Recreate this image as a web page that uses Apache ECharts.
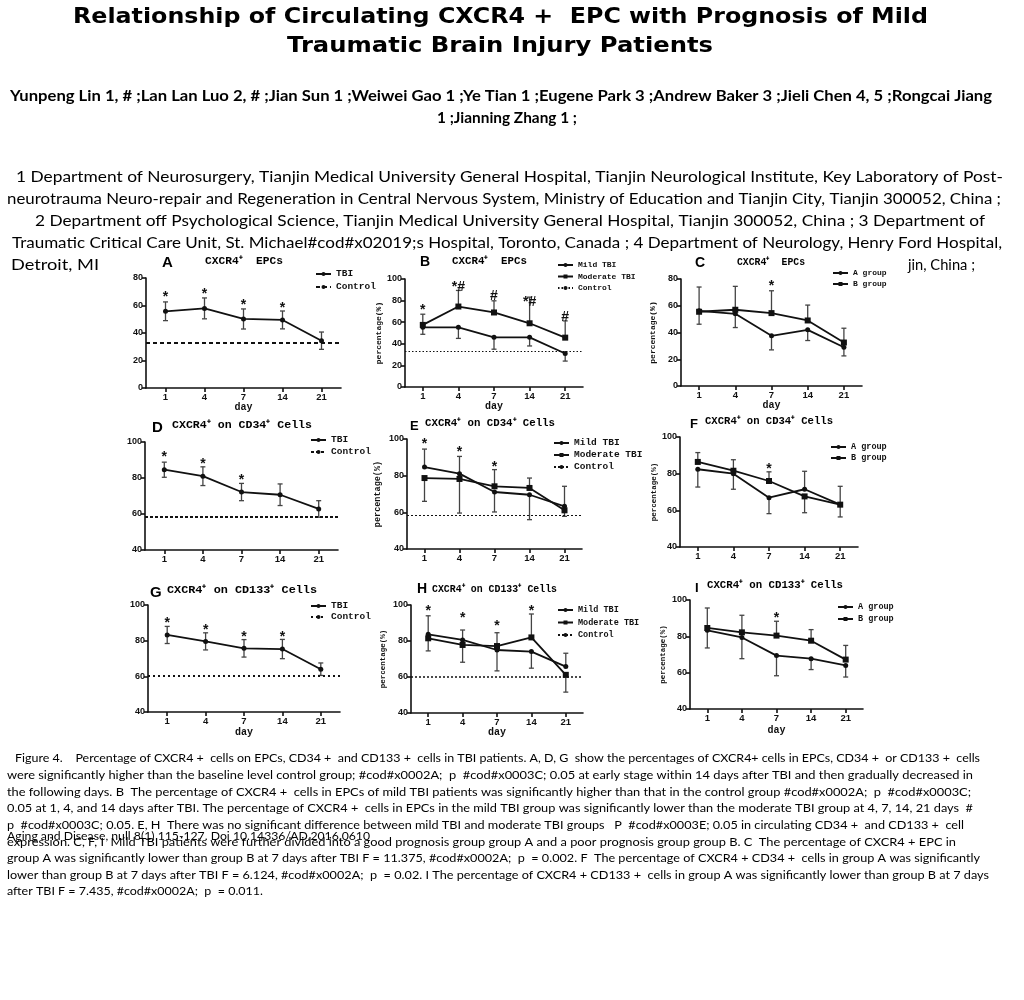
<!DOCTYPE html>
<html><head><meta charset="utf-8">
<script src="https://cdn.jsdelivr.net/npm/echarts@6/dist/echarts.min.js"></script>
<style>html,body{margin:0;padding:0;background:#fff}#c{width:1024px;height:1000px}</style>
</head><body><div id="c"></div>
<script>
// ---------- data ----------
const days = ['1','4','7','14','21'];

// A: CXCR4+ EPCs, TBI vs control
const A_tbi = [55.8, 57.9, 50.2, 49.5, 34.4];
const A_tbi_err = [6.8, 7.6, 7.3, 6.5, 6.3];
const A_control = 32.7;
const A_marks = ['*','*','*','*',''];
const A_markY = [68.5, 70.5, 62.5, 60.5, null];

// B: CXCR4+ EPCs, mild vs moderate
const B_mild = [55.3, 55.3, 46, 46, 31];
const B_mild_lo = [6.5, 10.3, 11, 8, 7];
const B_mod = [57.5, 74.5, 69, 59, 45.7];
const B_mod_hi = [9.9, 14.9, 10.8, 24.2, 15.5];
const B_control = 33.2;
const B_marks = ['*','*#','#','*#','#'];
const B_markY = [74, 95, 87, 81, 67.6];

// C: CXCR4+ EPCs, A vs B group
const C_a = [56.2, 54, 37.5, 42, 29];
const C_a_lo = [10, 10.3, 10.5, 8, 6.5];
const C_b = [55.5, 57, 54.5, 49, 32.5];
const C_b_hi = [18.5, 17.5, 16.7, 11.5, 10.7];
const C_marks = ['','','*','',''];
const C_markY = [null, null, 77, null, null];

// D: CXCR4+ on CD34+, TBI vs control
const D_tbi = [84.6, 81, 72.2, 70.7, 62.8];
const D_tbi_err = [4.2, 5.2, 4.8, 6, 4.6];
const D_control = 58.3;
const D_marks = ['*','*','*','',''];
const D_markY = [93, 89.6, 80.4, null, null];

// E: CXCR4+ on CD34+, mild vs moderate
const E_mild = [84.7, 81.1, 71.1, 69.6, 63.3];
const E_mild_hi = [9.8, 9.4, 0, 0, 10.9];
const E_mild_lo = [0, 0, 10.9, 13.6, 0];
const E_mod = [78.7, 78.2, 74.2, 73.3, 61.1];
const E_mod_hi = [0, 0, 9.1, 5.4, 0];
const E_mod_lo = [12.7, 18.6, 0, 0, 3.3];
const E_control = 58.2;
const E_marks = ['*','*','*','',''];
const E_markY = [98.7, 94.7, 86.4, null, null];

// F: CXCR4+ on CD34+, A vs B group
const F_a = [82.4, 80, 66.9, 71.5, 63.1];
const F_a_hi = [0, 0, 0, 9.8, 10];
const F_a_lo = [9.7, 8.5, 8.7, 0, 0];
const F_b = [86.4, 81.6, 76, 67.6, 63.1];
const F_b_hi = [5.1, 6, 5, 0, 0];
const F_b_lo = [0, 0, 0, 8.9, 6.7];
const F_marks = ['','','*','',''];
const F_markY = [null, null, 84.2, null, null];

// G: CXCR4+ on CD133+, TBI vs control
const G_tbi = [83.2, 79.6, 75.7, 75.3, 64];
const G_tbi_err = [4.8, 4.8, 4.9, 5.4, 3.5];
const G_control = 60.3;
const G_marks = ['*','*','*','*',''];
const G_markY = [91.3, 87.7, 83.8, 83.8, null];

// H: CXCR4+ on CD133+, mild vs moderate
const H_mild = [83.7, 80.6, 75, 74.1, 65.8];
const H_mild_hi = [10.3, 5.5, 0, 0, 7.4];
const H_mild_lo = [0, 0, 11.6, 9.2, 0];
const H_mod = [81.5, 77.8, 77.2, 82, 61.2];
const H_mod_hi = [0, 0, 7.4, 13, 0];
const H_mod_lo = [7, 9.6, 0, 0, 9.6];
const H_control = 60.3;
const H_marks = ['*','*','*','*',''];
const H_markY = [98, 94.4, 89.8, 98.5, null];

// I: CXCR4+ on CD133+, A vs B group
const I_a = [83.3, 79.4, 69.4, 67.7, 64];
const I_a_lo = [9.7, 11.7, 11.1, 6, 6.4];
const I_b = [84.6, 82.2, 80.4, 77.6, 67.2];
const I_b_hi = [11, 9.4, 7.9, 6.1, 7.8];
const I_marks = ['','','*','',''];
const I_markY = [null, null, 91.4, null, null];

// ---------- text ----------
const titleLines = ['Relationship of Circulating CXCR4 +  EPC with Prognosis of Mild', 'Traumatic Brain Injury Patients'];
const authorLines = ['Yunpeng Lin 1, # ;Lan Lan Luo 2, # ;Jian Sun 1 ;Weiwei Gao 1 ;Ye Tian 1 ;Eugene Park 3 ;Andrew Baker 3 ;Jieli Chen 4, 5 ;Rongcai Jiang', '1 ;Jianning Zhang 1 ;'];
const affLines = [
 '1 Department of Neurosurgery, Tianjin Medical University General Hospital, Tianjin Neurological Institute, Key Laboratory of Post-',
 'neurotrauma Neuro-repair and Regeneration in Central Nervous System, Ministry of Education and Tianjin City, Tianjin 300052, China ;',
 '2 Department off Psychological Science, Tianjin Medical University General Hospital, Tianjin 300052, China ; 3 Department of',
 'Traumatic Critical Care Unit, St. Michael#cod#x02019;s Hospital, Toronto, Canada ; 4 Department of Neurology, Henry Ford Hospital,',
 'Detroit, MI', 'jin, China ;'];
const captionLines = [
 'Figure 4.    Percentage of CXCR4 +  cells on EPCs, CD34 +  and CD133 +  cells in TBI patients. A, D, G  show the percentages of CXCR4+ cells in EPCs, CD34 +  or CD133 +  cells',
 'were significantly higher than the baseline level control group; #cod#x0002A;  p  #cod#x0003C; 0.05 at early stage within 14 days after TBI and then gradually decreased in',
 'the following days. B  The percentage of CXCR4 +  cells in EPCs of mild TBI patients was significantly higher than that in the control group #cod#x0002A;  p  #cod#x0003C;',
 '0.05 at 1, 4, and 14 days after TBI. The percentage of CXCR4 +  cells in EPCs in the mild TBI group was significantly lower than the moderate TBI group at 4, 7, 14, 21 days  #',
 'p  #cod#x0003C; 0.05. E, H  There was no significant difference between mild TBI and moderate TBI groups   P  #cod#x0003E; 0.05 in circulating CD34 +  and CD133 +  cell',
 'expression. C, F, I  Mild TBI patients were further divided into a good prognosis group group A and a poor prognosis group group B. C  The percentage of CXCR4 + EPC in',
 'group A was significantly lower than group B at 7 days after TBI F = 11.375, #cod#x0002A;  p  = 0.002. F  The percentage of CXCR4 + CD34 +  cells in group A was significantly',
 'lower than group B at 7 days after TBI F = 6.124, #cod#x0002A;  p  = 0.02. I The percentage of CXCR4 + CD133 +  cells in group A was significantly lower than group B at 7 days',
 'after TBI F = 7.435, #cod#x0002A;  p  = 0.011.'];
const citation = 'Aging and Disease, null 8(1) 115-127. Doi 10.14336/AD.2016.0610';

// ---------- layout ----------
const INK = '#111';
const P = [
 {key:'A', g:[146,278,195,110], y:[0,80], ser:[{n:'TBI', v:A_tbi, hi:A_tbi_err, lo:A_tbi_err, sym:'circle', ss:5}], ctrl:A_control, cs:{width:2,type:[4,3]}, marks:A_marks, markY:A_markY, xName:true, xGap:14, yName:false, leg:[315,274,9.5,13], letter:['A',162,263,15], title:['CXCR4⁺  EPCs',205,78,261]},
 {key:'B', g:[405,279,178,108], y:[0,100], ser:[{n:'Mild TBI', v:B_mild, hi:[], lo:B_mild_lo, sym:'circle', ss:5},{n:'Moderate TBI', v:B_mod, hi:B_mod_hi, lo:[], sym:'rect', ss:6}], ctrl:B_control, cs:{width:1,type:[1.5,2]}, marks:B_marks, markY:B_markY, xName:true, xGap:13, yName:true, yGap:21, yFs:8, leg:[557,265,8,11.5], letter:['B',420,262,14], title:['CXCR4⁺  EPCs',452,75,261]},
 {key:'C', g:[681,279,181,107], y:[0,80], ser:[{n:'A group', v:C_a, hi:[], lo:C_a_lo, sym:'circle', ss:5},{n:'B group', v:C_b, hi:C_b_hi, lo:[], sym:'rect', ss:6}], ctrl:null, marks:C_marks, markY:C_markY, xName:true, xGap:14, yName:true, yGap:24, yFs:8, leg:[832,273,8,11], letter:['C',695,263,14], title:['CXCR4⁺  EPCs',737,68,262]},
 {key:'D', g:[145,442,193,108], y:[40,100], ser:[{n:'TBI', v:D_tbi, hi:D_tbi_err, lo:D_tbi_err, sym:'circle', ss:5}], ctrl:D_control, cs:{width:2,type:[3,2]}, marks:D_marks, markY:D_markY, xName:false, yName:false, leg:[310,440,9.5,12], letter:['D',152,428,15], title:['CXCR4⁺ on CD34⁺ Cells',172,140,425]},
 {key:'E', g:[407,439,175,110], y:[40,100], ser:[{n:'Mild TBI', v:E_mild, hi:E_mild_hi, lo:E_mild_lo, sym:'circle', ss:5},{n:'Moderate TBI', v:E_mod, hi:E_mod_hi, lo:E_mod_lo, sym:'rect', ss:6}], ctrl:E_control, cs:{width:1,type:[2,2]}, marks:E_marks, markY:E_markY, xName:false, yName:true, yGap:25, yFs:8.5, leg:[553,443,9.5,12], letter:['E',410,426,13], title:['CXCR4⁺ on CD34⁺ Cells',425,130,423]},
 {key:'F', g:[680,437,178,110], y:[40,100], ser:[{n:'A group', v:F_a, hi:F_a_hi, lo:F_a_lo, sym:'circle', ss:5},{n:'B group', v:F_b, hi:F_b_hi, lo:F_b_lo, sym:'rect', ss:6}], ctrl:null, marks:F_marks, markY:F_markY, xName:false, yName:true, yGap:18, yFs:7.5, leg:[830,447,8.5,11], letter:['F',690,424,13], title:['CXCR4⁺ on CD34⁺ Cells',705,128,421]},
 {key:'G', g:[148,605,192,107], y:[40,100], ser:[{n:'TBI', v:G_tbi, hi:G_tbi_err, lo:G_tbi_err, sym:'circle', ss:5}], ctrl:G_control, cs:{width:2,type:[2,3]}, marks:G_marks, markY:G_markY, xName:true, xGap:15, yName:false, leg:[310,606,9.5,11], letter:['G',150,593,15], title:['CXCR4⁺ on CD133⁺ Cells',167,150,590]},
 {key:'H', g:[411,605,172,108], y:[40,100], ser:[{n:'Mild TBI', v:H_mild, hi:H_mild_hi, lo:H_mild_lo, sym:'circle', ss:5},{n:'Moderate TBI', v:H_mod, hi:H_mod_hi, lo:H_mod_lo, sym:'rect', ss:6}], ctrl:H_control, cs:{width:1.5,type:[2,2]}, marks:H_marks, markY:H_markY, xName:true, xGap:12, yName:true, yGap:24, yFs:7.5, leg:[557,610,8.5,12.5], letter:['H',417,589,14], title:['CXCR4⁺ on CD133⁺ Cells',432,125,589]},
 {key:'I', g:[690,600,173,109], y:[40,100], ser:[{n:'A group', v:I_a, hi:[], lo:I_a_lo, sym:'circle', ss:5},{n:'B group', v:I_b, hi:I_b_hi, lo:[], sym:'rect', ss:6}], ctrl:null, marks:I_marks, markY:I_markY, xName:true, xGap:16, yName:true, yGap:23, yFs:7.5, leg:[837,607,8.5,12], letter:['I',695,588,13], title:['CXCR4⁺ on CD133⁺ Cells',707,136,585]}
];

// ---------- helpers ----------
const mctx = document.createElement('canvas').getContext('2d');
function txt(s, font, x, y, w, z) {
  let sx = 1;
  if (w) { mctx.font = font; const m = mctx.measureText(s).width; if (m > 0) sx = w / m; }
  return {type:'text', x:x, y:y, scaleX:sx, silent:true, z:z||10,
    style:{text:s, font:font, fill:'#000', textAlign:'left', textVerticalAlign:'middle'}};
}
function errRender(params, api) {
  const x = api.value(0), v = api.value(1), up = api.value(2), dn = api.value(3);
  const mid = api.coord([x, v]);
  const st = {stroke:'#444', lineWidth:1.3, fill:null};
  const ch = [], cw = 2.5;
  if (up > 0) {
    const t = api.coord([x, v + up]);
    ch.push({type:'line', shape:{x1:mid[0], y1:mid[1], x2:t[0], y2:t[1]}, style:st});
    ch.push({type:'line', shape:{x1:t[0]-cw, y1:t[1], x2:t[0]+cw, y2:t[1]}, style:st});
  }
  if (dn > 0) {
    const b = api.coord([x, v - dn]);
    ch.push({type:'line', shape:{x1:mid[0], y1:mid[1], x2:b[0], y2:b[1]}, style:st});
    ch.push({type:'line', shape:{x1:b[0]-cw, y1:b[1], x2:b[0]+cw, y2:b[1]}, style:st});
  }
  return {type:'group', children:ch};
}

// ---------- build ----------
const grids = [], xAxes = [], yAxes = [], series = [], legends = [], graphics = [];
const tickFont = {color:INK, fontFamily:'Liberation Sans', fontWeight:'bold'};
P.forEach((p, gi) => {
  grids.push({left:p.g[0], top:p.g[1], width:p.g[2], height:p.g[3], containLabel:false, outerBoundsMode:'none'});
  xAxes.push({type:'category', gridIndex:gi, data:days, boundaryGap:true,
    axisLine:{show:true, lineStyle:{color:INK, width:1.6}},
    axisTick:{show:true, alignWithLabel:true, length:4, lineStyle:{color:INK, width:1.6}},
    axisLabel:Object.assign({fontSize:9.5, margin:4}, tickFont),
    splitLine:{show:false},
    name:p.xName ? 'day' : '', nameLocation:'middle', nameGap:p.xGap || 14,
    nameTextStyle:{color:INK, fontFamily:'Liberation Mono', fontWeight:'bold', fontSize:10}});
  yAxes.push({type:'value', gridIndex:gi, min:p.y[0], max:p.y[1], interval:20,
    axisLine:{show:true, lineStyle:{color:INK, width:1.6}},
    axisTick:{show:true, length:4, lineStyle:{color:INK, width:1.6}},
    axisLabel:Object.assign({fontSize:9, margin:3}, tickFont),
    splitLine:{show:false},
    name:p.yName ? 'percentage(%)' : '', nameLocation:'middle', nameRotate:90, nameGap:p.yGap || 22,
    nameTextStyle:{color:INK, fontFamily:'Liberation Mono', fontWeight:'bold', fontSize:p.yFs || 8}});
  const names = [];
  p.ser.forEach(s => {
    const nm = s.n + '|' + p.key; names.push(nm);
    series.push({type:'custom', name:nm + '|err', xAxisIndex:gi, yAxisIndex:gi, z:1, silent:true,
      renderItem:errRender, encode:{x:0, y:1},
      data:s.v.map((v, i) => [i, v, s.hi[i] || 0, s.lo[i] || 0])});
    series.push({type:'line', name:nm, xAxisIndex:gi, yAxisIndex:gi, data:s.v, symbol:s.sym, symbolSize:s.ss,
      lineStyle:{color:INK, width:1.8}, itemStyle:{color:INK}, z:3, silent:true, animation:false});
  });
  if (p.ctrl != null) {
    const nm = 'Control|' + p.key; names.push(nm);
    series.push({type:'line', name:nm, xAxisIndex:gi, yAxisIndex:gi, data:[], symbol:'none',
      lineStyle:{color:INK, width:p.cs.width, type:p.cs.type}, itemStyle:{color:INK},
      markLine:{silent:true, animation:false, symbol:['none','none'], label:{show:false},
        lineStyle:{color:INK, width:p.cs.width, type:p.cs.type}, emphasis:{disabled:true},
        data:[{yAxis:p.ctrl}]}});
  }
  const mk = [], mt = [];
  p.marks.forEach((m, i) => { if (m) { mk.push([i, p.markY[i]]); mt.push(m); } });
  series.push({type:'custom', name:'marks|' + p.key, xAxisIndex:gi, yAxisIndex:gi, silent:true, z:4,
    encode:{x:0, y:1}, data:mk,
    renderItem:(params, api) => {
      const c = api.coord([api.value(0), api.value(1)]);
      return {type:'text', x:c[0], y:c[1] + 3,
        style:{text:mt[params.dataIndex], font:'bold 14px "Liberation Sans"', fill:INK, textAlign:'center', textVerticalAlign:'middle'}};
    }});
  const lh = p.leg[3] - 1;
  legends.push({data:names, orient:'vertical', left:p.leg[0], top:p.leg[1] - lh / 2, padding:0,
    itemWidth:15, itemHeight:5, itemGap:1, selectedMode:false,
    formatter:n => n.split('|')[0],
    textStyle:{color:INK, fontFamily:'Liberation Mono', fontWeight:'bold', fontSize:p.leg[2], lineHeight:lh}});
  graphics.push(txt(p.letter[0], 'bold ' + p.letter[3] + 'px "Liberation Sans"', p.letter[1], p.letter[2]));
  graphics.push(txt(p.title[0], 'bold 11.5px "Liberation Mono"', p.title[1], p.title[3], p.title[2]));
});

// page text
const TF = 'bold 21px "DejaVu Sans"';
graphics.push(txt(titleLines[0], TF, 73, 18, 855));
graphics.push(txt(titleLines[1], TF, 287, 47, 426));
const AF = 'bold 15.5px Lato';
graphics.push(txt(authorLines[0], AF, 10, 96, 982));
graphics.push(txt(authorLines[1], AF, 437, 118, 140));
const FF = '16px Lato';
graphics.push(txt(affLines[0], FF, 16, 177, 987));
graphics.push(txt(affLines[1], FF, 7, 199, 994));
graphics.push(txt(affLines[2], FF, 35, 221, 950));
graphics.push(txt(affLines[3], FF, 12, 243, 990));
graphics.push(txt(affLines[4], FF, 11, 265, 88));
graphics.push(txt(affLines[5], FF, 908, 265, 67));
const CF = '12px Lato';
const capY = [758, 775, 792, 808, 825, 842, 858, 875, 891];
const capL = [15, 7, 7, 7, 7, 7, 7, 7, 7];
const capR = [980, 973, 971, 973, 964, 956, 980, 989, 263];
captionLines.forEach((s, i) => graphics.push(txt(s, CF, capL[i], capY[i], capR[i] - capL[i])));
graphics.push(txt(citation, CF, 7, 836, 363));

const chart = echarts.init(document.getElementById('c'), null, {renderer:'canvas'});
chart.setOption({
  backgroundColor:'#ffffff', animation:false,
  grid:grids, xAxis:xAxes, yAxis:yAxes, series:series, legend:legends,
  graphic:{elements:graphics}
});
</script></body></html>
